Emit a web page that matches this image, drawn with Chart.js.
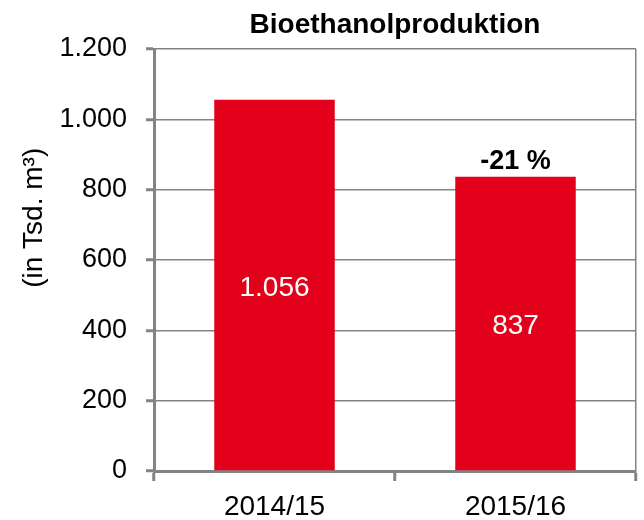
<!DOCTYPE html>
<html><head><meta charset="utf-8">
<script src="https://cdn.jsdelivr.net/npm/chart.js@4/dist/chart.umd.min.js"></script>
<style>html,body{margin:0;padding:0;background:#fff}#wrap{width:644px;height:520px}</style>
</head><body><div id="wrap"><canvas id="c" width="644" height="520"></canvas></div>
<script>
const categories = ['2014/15', '2015/16'];
const production = [1056, 837];
const valueLabels = ['1.056', '837'];
const changeLabels = ['', '-21 %'];
const yTickValues = [0, 200, 400, 600, 800, 1000, 1200];
const yTickLabels = ['0', '200', '400', '600', '800', '1.000', '1.200'];
const yAxisTitle = '(in Tsd. m³)';
const FONT = "'Liberation Sans', Arial, sans-serif";
const GRAY = '#838383';

const labelPlugin = {
  id: 'labels',
  afterDatasetsDraw(chart) {
    const ctx = chart.ctx;
    const meta = chart.getDatasetMeta(0);
    ctx.save();
    ctx.textAlign = 'center';
    ctx.textBaseline = 'middle';
    meta.data.forEach((bar, i) => {
      ctx.fillStyle = '#ffffff';
      ctx.font = '28px ' + FONT;
      ctx.fillText(valueLabels[i], bar.x, (bar.y + bar.base) / 2 + 3);
      if (changeLabels[i]) {
        ctx.fillStyle = '#000000';
        ctx.font = 'bold 27px ' + FONT;
        ctx.fillText(changeLabels[i], bar.x, bar.y - 15);
      }
    });
    ctx.restore();
  },
  afterDraw(chart) {
    const ctx = chart.ctx;
    const area = chart.chartArea;
    ctx.save();
    ctx.translate(34, area.top + (area.bottom - area.top) * 0.4);
    ctx.rotate(-Math.PI / 2);
    ctx.textAlign = 'center';
    ctx.textBaseline = 'middle';
    ctx.fillStyle = '#000';
    ctx.font = '28px ' + FONT;
    ctx.fillText(yAxisTitle, 0, 0);
    ctx.restore();
  }
};

new Chart(document.getElementById('c'), {
  type: 'bar',
  data: {
    labels: categories,
    datasets: [{ data: production, backgroundColor: '#E2001A', barPercentage: 0.5, categoryPercentage: 1.0 }]
  },
  options: {
    responsive: false,
    animation: false,
    layout: { padding: { left: 0, right: 8, top: 0, bottom: 0 } },
    plugins: {
      legend: { display: false },
      tooltip: { enabled: false },
      title: {
        display: true, text: 'Bioethanolproduktion', fullSize: false,
        color: '#000', font: { family: FONT, size: 28, weight: 'bold' },
        padding: { top: 8, bottom: 7.4 }
      }
    },
    scales: {
      x: {
        grid: {
          offset: true,
          color: (c) => (c.type === 'tick' ? 'rgba(0,0,0,0)' : GRAY),
          lineWidth: 1.5,
          tickColor: GRAY, tickWidth: 3, tickLength: 10
        },
        border: { color: GRAY, width: 3 },
        ticks: { color: '#000', font: { family: FONT, size: 28 }, padding: 9 },
        afterFit: (s) => { s.height = 49; }
      },
      y: {
        min: 0, max: 1200,
        afterBuildTicks: (s) => { s.ticks = yTickValues.map(v => ({ value: v })); },
        grid: { color: GRAY, lineWidth: 1.5, tickColor: GRAY, tickWidth: 3, tickLength: 8 },
        border: { color: GRAY, width: 3 },
        ticks: {
          color: '#000', font: { family: FONT, size: 27 }, padding: 19,
          callback: (v) => yTickLabels[yTickValues.indexOf(v)]
        },
        afterFit: (s) => { s.width = 154; }
      }
    }
  },
  plugins: [labelPlugin]
});
</script></body></html>
